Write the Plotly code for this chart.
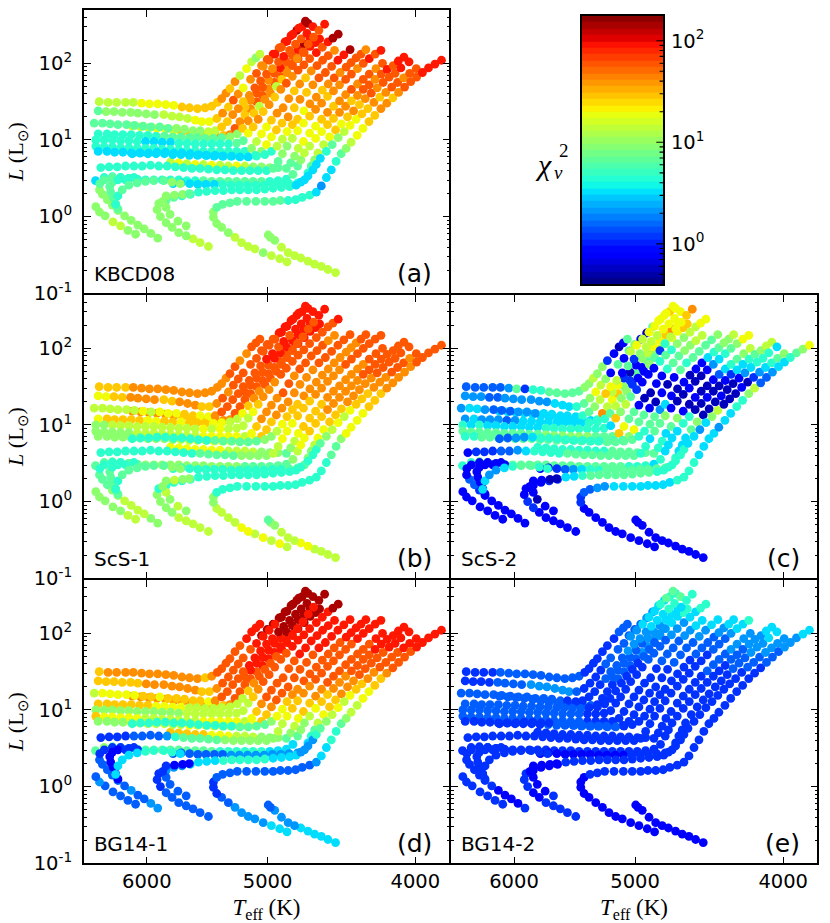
import math
import numpy as np
import plotly.graph_objects as go

# evolutionary tracks: Teff in K, log10 L in Lsun
teff_1 = [6448,6362,6280,6196,6124,6048,5976,5902,5830,5761,5690,5625,5558,5495,5440,5394,5359,5324,5292,5252,5213,5161,5122,5089,5058]
logl_1 = [1.50,1.49,1.49,1.49,1.49,1.48,1.47,1.47,1.46,1.45,1.43,1.42,1.41,1.42,1.44,1.49,1.54,1.61,1.67,1.76,1.84,1.93,2.02,2.07,2.12]
teff_2 = [6458,6381,6305,6227,6149,6082,6006,5931,5848,5776,5710,5642,5577,5522,5460,5399,5351,5305,5265,5226,5187,5130,5084,5033,4988,4944,4896,4855,4812,4770,4722]
logl_2 = [1.38,1.37,1.37,1.36,1.36,1.35,1.34,1.33,1.33,1.31,1.30,1.28,1.26,1.24,1.24,1.28,1.35,1.43,1.52,1.60,1.68,1.79,1.87,1.96,2.04,2.12,2.21,2.29,2.38,2.46,2.55]
teff_3 = [6497,6416,6342,6268,6187,6112,6033,5961,5884,5810,5737,5668,5596,5536,5467,5412,5359,5313,5270,5226,5187,5140,5097,5053,5008,4963,4918,4879,4836,4793,4752,4711,4669]
logl_3 = [1.22,1.22,1.21,1.20,1.20,1.19,1.18,1.17,1.17,1.15,1.15,1.14,1.12,1.12,1.11,1.12,1.17,1.24,1.33,1.41,1.50,1.58,1.68,1.77,1.86,1.93,2.02,2.09,2.17,2.25,2.32,2.39,2.48]
teff_4 = [6133,6057,5982,5908,5834,5761,5690,5619,5550,5481,5412,5345,5292,5252,5213,5174,5130,5084,5038,4993,4948,4904,4860,4816,4775,4731,4689,4650,4622]
logl_4 = [1.18,1.17,1.16,1.15,1.14,1.12,1.10,1.09,1.08,1.07,1.07,1.06,1.07,1.15,1.24,1.33,1.41,1.50,1.58,1.67,1.75,1.83,1.91,1.99,2.06,2.14,2.22,2.27,2.32]
teff_5 = [6458,6372,6299,6221,6143,6066,5991,5917,5843,5770,5699,5627,5563,5495,5426,5359,5292,5234,5192,5148,5104,5063,5021,4978,4934,4894,4855,4816,4780,4740,4702,4664,4627,4587]
logl_5 = [1.08,1.08,1.07,1.07,1.07,1.06,1.06,1.05,1.05,1.04,1.04,1.03,1.03,1.02,1.02,1.03,1.04,1.08,1.15,1.25,1.35,1.44,1.53,1.61,1.70,1.79,1.88,1.97,2.06,2.15,2.25,2.34,2.43,2.51]
teff_6 = [6481,6400,6321,6243,6165,6088,6012,5937,5863,5790,5718,5648,5577,5508,5440,5372,5305,5239,5187,5148,5110,5071,5033,4988,4946,4901,4860,4816,4775,4733,4692,4645,4603,4564,4530,4494]
logl_6 = [1.00,1.00,1.00,0.99,0.99,0.98,0.98,0.98,0.97,0.97,0.96,0.96,0.95,0.95,0.95,0.95,0.95,0.96,0.99,1.09,1.17,1.27,1.37,1.46,1.56,1.66,1.74,1.83,1.91,1.98,2.06,2.14,2.21,2.28,2.33,2.38]
teff_7 = [6481,6400,6321,6243,6165,6088,6012,5937,5863,5790,5718,5648,5577,5508,5440,5372,5305,5239,5174,5122,5084,5046,5008,4971,4929,4884,4842,4802,4763,4721,4681,4640,4601,4562,4519]
logl_7 = [0.92,0.91,0.91,0.90,0.90,0.89,0.89,0.89,0.88,0.88,0.87,0.86,0.86,0.85,0.85,0.85,0.85,0.85,0.85,0.89,0.98,1.08,1.17,1.26,1.35,1.42,1.54,1.64,1.73,1.81,1.90,1.97,2.04,2.10,2.17]
teff_8 = [6458,6372,6299,6221,6143,6066,5991,5917,5843,5770,5699,5627,5558,5489,5421,5353,5287,5221,5156,5092,5046,5008,4971,4934,4892,4847,4802,4761,4714,4669,4627,4582,4539,4496,4456,4414]
logl_8 = [0.85,0.85,0.84,0.84,0.83,0.83,0.82,0.82,0.82,0.81,0.81,0.80,0.80,0.80,0.79,0.79,0.79,0.79,0.79,0.80,0.85,0.94,1.04,1.13,1.22,1.30,1.42,1.53,1.62,1.72,1.81,1.88,1.96,2.04,2.11,2.18]
teff_9 = [6133,6057,5982,5908,5834,5761,5690,5619,5550,5481,5412,5345,5278,5213,5148,5084,5021,4971,4929,4889,4855,4816,4778,4733,4690,4645,4603,4562,4521,4481,4440,4407,4374,4342,4310]
logl_9 = [0.82,0.83,0.83,0.84,0.84,0.83,0.83,0.82,0.81,0.80,0.80,0.79,0.79,0.78,0.78,0.79,0.81,0.85,0.92,1.01,1.11,1.20,1.27,1.38,1.47,1.56,1.65,1.73,1.81,1.88,1.95,2.01,2.07,2.12,2.18]
teff_10 = [6432,6352,6274,6196,6118,6042,5967,5893,5819,5747,5676,5605,5536,5467,5399,5332,5265,5200,5135,5071,5008,4958,4921,4889,4855,4816,4778,4736,4692,4650,4608,4567,4526,4485,4444,4405,4365,4327,4288,4250,4213]
logl_10 = [0.64,0.65,0.65,0.66,0.66,0.66,0.67,0.66,0.66,0.65,0.64,0.63,0.63,0.62,0.61,0.61,0.60,0.60,0.60,0.60,0.60,0.63,0.72,0.82,0.92,1.02,1.12,1.22,1.31,1.40,1.48,1.57,1.64,1.72,1.79,1.86,1.93,2.00,2.06,2.12,2.17]
teff_11 = [5790,5718,5648,5577,5508,5440,5372,5305,5239,5174,5110,5046,4983,4921,4860,4828,4800,4773,4736,4692,4650,4608,4567,4526,4485,4444,4405,4365,4327,4288,4245,4203]
logl_11 = [0.71,0.70,0.69,0.68,0.68,0.67,0.67,0.66,0.66,0.66,0.65,0.65,0.64,0.64,0.63,0.70,0.79,0.89,0.98,1.09,1.18,1.27,1.36,1.44,1.51,1.59,1.66,1.73,1.79,1.86,1.93,2.00]
teff_12 = [6484,6400,6321,6243,6165,6088,6012,5937,5863,5790,5718,5648,5577,5508,5440,5372,5305,5239,5174,5110,5046,4983,4921,4860,4812,4778,4755,4729,4692,4650,4608,4567,4526,4485,4444,4405,4365,4327,4288,4250,4211,4174,4136,4104,4069]
logl_12 = [0.47,0.51,0.52,0.51,0.50,0.49,0.48,0.48,0.48,0.48,0.48,0.47,0.47,0.47,0.46,0.46,0.46,0.46,0.46,0.46,0.46,0.46,0.47,0.49,0.55,0.66,0.74,0.83,0.92,1.02,1.11,1.20,1.28,1.36,1.44,1.51,1.58,1.66,1.72,1.79,1.86,1.92,1.97,2.03,2.08]
teff_13 = [5767,5697,5625,5555,5487,5418,5351,5283,5218,5153,5089,5026,4963,4901,4840,4778,4729,4704,4681,4657,4634,4594,4553,4512,4472,4431,4391,4352,4314,4275,4237,4199,4161,4124,4088,4038]
logl_13 = [0.43,0.44,0.43,0.42,0.42,0.42,0.42,0.41,0.41,0.41,0.41,0.41,0.42,0.42,0.43,0.44,0.48,0.57,0.66,0.74,0.83,0.94,1.04,1.13,1.21,1.30,1.38,1.46,1.54,1.61,1.68,1.75,1.82,1.87,1.94,2.02]
teff_14 = [5467,5536,5596,5654,5718,5776,5828,5878,5908,5893,5828,5761,5690,5619,5550,5481,5412,5345,5278,5213,5148,5084,5021,4958,4896,4836,4789,4755,4704,4669,4645,4617,4575,4535,4494,4453,4414,4374,4336,4297,4258,4220,4182,4145,4108,4071,4034,3994]
logl_14 = [-0.39,-0.34,-0.29,-0.25,-0.21,-0.14,-0.08,0.00,0.09,0.17,0.21,0.25,0.27,0.29,0.32,0.33,0.34,0.34,0.35,0.35,0.35,0.35,0.36,0.37,0.38,0.39,0.41,0.45,0.53,0.61,0.68,0.76,0.85,0.94,1.03,1.11,1.19,1.27,1.34,1.41,1.49,1.56,1.62,1.69,1.75,1.81,1.87,1.93]
teff_15 = [4855,4909,4971,5033,5097,5148,5200,5252,5305,5359,5399,5426,5426,5399,5351,5292,5234,5161,5089,5021,4958,4904,4847,4793,4745,4692,4645,4610,4575,4541,4508,4474,4440,4407,4367,4329,4290,4252,4213,4176,4138,4102,4065,4028,3992,3957,3921,3883,3845]
logl_15 = [-0.59,-0.55,-0.51,-0.47,-0.42,-0.39,-0.34,-0.27,-0.21,-0.14,-0.09,-0.01,0.06,0.12,0.16,0.18,0.20,0.20,0.20,0.20,0.20,0.21,0.21,0.22,0.25,0.28,0.32,0.40,0.51,0.61,0.72,0.82,0.89,0.97,1.06,1.15,1.24,1.32,1.41,1.48,1.55,1.62,1.69,1.76,1.82,1.88,1.94,1.99,2.04]
teff_16 = [5654,5725,5793,5828,5857,5828,5755,5684,5627]
logl_16 = [-0.12,-0.06,0.03,0.12,0.20,0.27,0.28,0.29,0.30]
teff_17 = [5902,5964,6024,6082,6143,6205,6268,6321,6369,6416,6445,6442,6398,6321,6243,6165,6082]
logl_17 = [-0.28,-0.22,-0.16,-0.11,-0.05,0.01,0.08,0.15,0.22,0.29,0.35,0.43,0.48,0.51,0.51,0.50,0.48]
teff_18 = [6103,6174,6243,6315,6390,6445,6481]
logl_18 = [-0.23,-0.18,-0.12,-0.07,0.01,0.06,0.13]
teff_19 = [4512,4564,4610,4657,4704,4755,4800,4847,4896,4946,4978,4995]
logl_19 = [-0.73,-0.69,-0.65,-0.62,-0.58,-0.54,-0.51,-0.47,-0.40,-0.31,-0.27,-0.24]
teff_20 = [6268,6290,6312,6337,6346,6321,6268,6196,6118]
logl_20 = [0.10,0.17,0.25,0.32,0.39,0.45,0.48,0.48,0.51]
teff_21 = [6290,6268,6227,6165,6088,6012,5937,5848,5776,5705]
logl_21 = [0.16,0.27,0.35,0.41,0.44,0.46,0.47,0.47,0.45,0.43]
teff_22 = [5046,5003,4958,4914,4870,4826,4784,4745,4704]
logl_22 = [1.97,2.05,2.12,2.20,2.28,2.36,2.43,2.48,2.52]
teff_23 = [5174,5130,5084,5038,4993,4948,4904,4860,4816,4775,4731,4689]
logl_23 = [1.43,1.52,1.61,1.69,1.78,1.87,1.94,2.02,2.10,2.18,2.25,2.33]

teff_tracks = [teff_1,teff_2,teff_3,teff_4,teff_5,teff_6,teff_7,teff_8,teff_9,teff_10,teff_11,teff_12,teff_13,teff_14,teff_15,teff_16,teff_17,teff_18,teff_19,teff_20,teff_21,teff_22,teff_23]
logl_tracks = [logl_1,logl_2,logl_3,logl_4,logl_5,logl_6,logl_7,logl_8,logl_9,logl_10,logl_11,logl_12,logl_13,logl_14,logl_15,logl_16,logl_17,logl_18,logl_19,logl_20,logl_21,logl_22,logl_23]
# the hidden rows go first so the others lie on top of them
draw_order = [3, 10, 21, 22, 0, 1, 2, 4, 5, 6, 7, 8, 9, 11, 12, 13, 14, 15, 16, 17, 18, 19, 20]

# reduced chi2 classes, one hex digit per point of a track
chi_levels = [0.55,0.85,1.15,1.5,2.1,3.2,4.6,6.6,9.4,13.6,20,28,41,58,88,140]

chi_a = ["99999aaaaabbbbbbccbc9a989","788888889999aaabcbdcacdcdedeeef","7777777777888899bbccbcdddcdedddee","999aaabbbbcbcdcbcddcddcdedeee",
         "666666667777777788bcb9cc9bcdcdddde","6666665555666666677abcbcbcdcdddedeff","666666666666666666689aabcccbcbcdddc",
         "555555555555555566668aabbcbcbcdddeef","55555555555555566699abbaccbcdcddddc","66666666666666666666677889aabccbccddcdede",
         "9a9a9a99a988877789aaabcbccdcddcd","56666666666667777777766677899aabbccbcddcdedee","555555666666666656789" + "9ababcbcdcdddee",
         "999888888877666666666666665555556789aabbcbcddcdde"[:48],"9998999988888777777777666654556789aabbccbcdddeeee"[:49],
         "888888887","88888888888777666","8899888","999999999888","777777666","6677777788","cdedeefef","bcddcdeddefe"]
chi_b = ["bbbbccccccccccccccddccdd","aabbccccbbcccbbcdcddddddddeeeee","999999a9aaabbaacddddddddeededeeee","ccccccbbbbcccdddddddddddeeeee",
         "abbbbbaabbabbbaa99abccddddddddddee","8899999999999a9a9999abcccdddddddddde","8888899999999aaaaa9abccccddcdddddcc",
         "88888888889999aaaaaabbbcccccccdddddd","6666666666777777889abbbccccccccccdd","66666666666677777888899aaabbbcccccddddddd",
         "aaaaaaa9999888789abbbbcccccccddd","77777788888888888877777789aabbbccccccdddddddd","66666666666666777889aabbbcccccdddddd",
         "999998888666666666666666666666" + "6789a9abbbcccdddcd","9a9a9aa99998866666666666666" + "66778aaaabbbcccccddddd",
         "898988988","88999988777666677","9988888","9999aa999887","777776666","6677777788","dddeeeeee","dddddeeeeeee"]
chi_c = ["333334726677777" + "8898821017","444334444445556" + "78a981719a9aaaaa","455433344455555" + "6789ba91728999aaaa","555555555555" + "6c9ab82717899aabb",
         "454443455555555666" + "798821187269aabc","6565555555666666665" + "b89721116768899aa","7777777777888888777" + "ba77100116778899",
         "66777777777777777766" + "8a77101017677778","33445666666667777" + "667745101011567889","122233456666777777777" + "665778100100145678aa",
         "666666666777777" + "66578101001356789","66777777777777777777666" + "565555" + "6600100125567899","1123456677777777" + "66555" + "780001001456665",
         "1111112211" + "11225567777777766666" + "655458900010245678","1111111111122" + "33445555555566" + "665555455668933455678a",
         "110111100","11111112331111111","1111111","111111111111","101111111","5544567766","78107aaba","9a20189aabca"]
chi_d = ["bccccccccccccbc" + "ddddddeeee","bbbbbbcccccccbb" + "cddddddeeeefffff","9aaaaabbabbbbba" + "cdddddeeeeefffffff","ccccccccccbb" + "cdddddeeeeeefffff",
         "bbbbbbbaaaa9999999" + "9bcddddeeeeeeeff","8888888888899999999" + "9bcdddddeeeeeeeff","baaaaa9999999aaaaa9" + "abcddddddeeeeeee",
         "88889999999aaaaaaaaa" + "bbcdddddddeeeeee","66666666666667777" + "8aabccdddddddeeeee","222233334677777888888" + "899abbccdddddddeeeee",
         "bbbbbaaa9998887" + "89abbccddddddddee","78777777777777766666655" + "557889" + "abbcccddddeeeeee","3333333444444444" + "45679" + "abbcccdddddeeee",
         "3333333222" + "44455556666665555444" + "6789a9abbccddddeee","5554444433222" + "33333333333334" + "55667899aabbcddddeeeee",
         "333322111","44334333333222222","3333343","555555444433","111111122","5555566665","fffffffff","deeeeeefffff"]
chi_e = ["222233333333333" + "2222222333","222233334444443" + "2222333344555677","333333333333322" + "222233334444555667","333333333333" + "22223333444455566",
         "333333333333333222" + "2222223334455566","3333333333333332222" + "22222233334445566","3333333333333332222" + "2222222233334455",
         "22222222223333333322" + "2222222233334455","22222223333333322" + "222222222233334455","222222222222222222222" + "22222222222223334556",
         "222222222222222" + "22222222233334444","22222222222222222222222" + "222222" + "2222222233344455","1111111111122222" + "22222" + "222222233344455",
         "2222211222" + "11112222222222222222" + "222222222223334444","1111111111111" + "12222222222222" + "2222222222222233344455",
         "211111111","21111222222222222","2222222","111111111111","222222222","2222222222","333445566","333333444555"]

panel_chi = [chi_a, chi_b, chi_c, chi_d, chi_e]
panel_names = ["KBCD08", "ScS-1", "ScS-2", "BG14-1", "BG14-2"]
panel_tags = ["(a)", "(b)", "(c)", "(d)", "(e)"]

y_ticks = [0.1, 1, 10, 100]
y_tick_labels = ["10<sup>-1</sup>", "10<sup>0</sup>", "10<sup>1</sup>", "10<sup>2</sup>"]
x_ticks = [4000, 5000, 6000]
bar_ticks = [1, 10, 100]
bar_tick_labels = ["10<sup>0</sup>", "10<sup>1</sup>", "10<sup>2</sup>"]

CHI_MIN, CHI_MAX = 0.4, 176
W, H = 830, 923
LW = 1.5

# matplotlib jet
jet = [[0, "rgb(0,0,127)"], [.11, "rgb(0,0,255)"], [.125, "rgb(0,0,255)"], [.34, "rgb(0,219,255)"],
       [.35, "rgb(0,230,247)"], [.375, "rgb(21,255,226)"], [.64, "rgb(239,255,8)"], [.65, "rgb(247,246,0)"],
       [.66, "rgb(255,236,0)"], [.89, "rgb(255,19,0)"], [.91, "rgb(232,0,0)"], [1, "rgb(127,0,0)"]]

# panel boxes in pixels: left, right, top, bottom
boxes = [(83, 450, 9, 294), (83, 450, 294, 579), (450, 818, 294, 579), (83, 450, 579, 864), (450, 818, 579, 864)]
FONT = "DejaVu Sans"
SERIF = "Liberation Serif"


# axis lines sit outside the plot area, pull the area in so neighbours share one line
def dom_x(a, b):
    return [(a + LW / 2) / W, (b - LW / 2) / W]


def dom_y(top, bottom):
    return [1 - (bottom - LW / 2) / H, 1 - (top + LW / 2) / H]


def minor_vals(first, last):
    vals = []
    for p in range(-2, 4):
        for k in range(2, 10):
            v = k * 10.0 ** p
            if first < v < last:
                vals.append(v)
    return vals


fig = go.Figure()
layout = {}
annotations = []

for i, box in enumerate(boxes):
    n = i + 1
    left, right, top, bottom = box
    xs, ys, cs = [], [], []
    for k in draw_order:
        t, l, code = teff_tracks[k], logl_tracks[k], panel_chi[i][k]
        code = code.ljust(len(t), code[-1])
        for a, b, c in zip(t, l, code):
            xs.append(a)
            ys.append(10 ** b)
            cs.append(math.log10(chi_levels[int(c, 16)]))
    fig.add_trace(go.Scatter(
        x=xs, y=ys, mode="markers", xaxis=f"x{n}", yaxis=f"y{n}", showlegend=False,
        marker=dict(size=8.8, color=cs, colorscale=jet, cmin=math.log10(CHI_MIN), cmax=math.log10(CHI_MAX),
                    line=dict(width=0))
    ))
    show_x = i >= 3
    show_y = left == 83
    layout[f"xaxis{n}"] = dict(
        type="log", domain=dom_x(left, right), range=[math.log10(6600), math.log10(3800)], anchor=f"y{n}",
        automargin=False,
        tickmode="array", tickvals=x_ticks, ticktext=[str(v) for v in x_ticks], showticklabels=show_x,
        ticks="inside", ticklen=7, tickwidth=1, tickcolor="black", showgrid=False, zeroline=False,
        showline=True, linecolor="black", linewidth=LW, mirror="ticks",
        tickfont=dict(family=FONT, size=19.5, color="black"), ticklabelstandoff=0,
        title=dict(text="<i>T</i><sub>eff</sub> (K)" if show_x else "", font=dict(family=SERIF, size=23, color="black"), standoff=13),
    )
    layout[f"yaxis{n}"] = dict(
        type="log", domain=dom_y(top, bottom), range=[-1, math.log10(500)], anchor=f"x{n}",
        automargin=False,
        tickmode="array", tickvals=y_ticks, ticktext=y_tick_labels, showticklabels=show_y,
        ticks="inside", ticklen=7, tickwidth=1, tickcolor="black", showgrid=False, zeroline=False,
        minor=dict(tickmode="array", tickvals=minor_vals(0.1, 500), ticks="inside", ticklen=3, tickwidth=1,
                   tickcolor="black", showgrid=False),
        showline=True, linecolor="black", linewidth=LW, mirror="ticks",
        tickfont=dict(family=FONT, size=19.5, color="black"), ticklabelstandoff=6,
        title=dict(text="<i>L</i> (L<sub>⊙</sub>)" if show_y else "", font=dict(family=SERIF, size=22, color="black"), standoff=4),
    )
    annotations.append(dict(text=panel_names[i], xref="paper", yref="paper", x=(left + 9) / W, y=1 - (bottom - 20) / H,
                            xanchor="left", yanchor="middle", showarrow=False,
                            font=dict(family=FONT, size=20, color="black")))
    annotations.append(dict(text=panel_tags[i], xref="paper", yref="paper", x=(right - 16) / W, y=1 - (bottom - 21) / H,
                            xanchor="right", yanchor="middle", showarrow=False,
                            font=dict(family=FONT, size=25, color="black")))

# colour bar drawn as its own small axes, so the log ticks can be long and short
BANDS = 42
edges = np.logspace(math.log10(CHI_MIN), math.log10(CHI_MAX), BANDS + 1)
centres = np.log10(np.sqrt(edges[:-1] * edges[1:]))
fig.add_trace(go.Heatmap(
    x=[0, 1], y=edges.tolist(), z=[[v] for v in centres.tolist()], xaxis="x6", yaxis="y6",
    colorscale=jet, zmin=math.log10(CHI_MIN), zmax=math.log10(CHI_MAX), showscale=False, hoverinfo="skip"
))
# axis ticks stay hidden behind the heatmap image here, so the bar's ticks are a line trace on top
tick_x, tick_y = [], []
for v in bar_ticks:
    tick_x += [0.915, 1, None]
    tick_y += [v, v, None]
for v in minor_vals(CHI_MIN, CHI_MAX):
    tick_x += [0.955, 1, None]
    tick_y += [v, v, None]
fig.add_trace(go.Scatter(x=tick_x, y=tick_y, mode="lines", xaxis="x6", yaxis="y6", showlegend=False,
                         line=dict(color="black", width=1.1), hoverinfo="skip"))
layout["xaxis6"] = dict(domain=dom_x(581, 664), range=[0, 1], anchor="y6", showticklabels=False, ticks="", automargin=False,
                        showgrid=False, zeroline=False, showline=True, linecolor="black", linewidth=LW, mirror=True)
layout["yaxis6"] = dict(
    type="log", domain=dom_y(15, 285), range=[math.log10(CHI_MIN), math.log10(CHI_MAX)], anchor="x6", side="right",
    automargin=False,
    tickmode="array", tickvals=bar_ticks, ticktext=bar_tick_labels, ticks="",
    showgrid=False, zeroline=False,
    showline=True, linecolor="black", linewidth=LW, mirror=True,
    tickfont=dict(family=FONT, size=19.5, color="black"), ticklabelstandoff=2,
)

# chi^2_nu label, the indices stack so they are placed one by one
annotations.append(dict(text="<i>χ</i>", xref="paper", yref="paper", x=533 / W, y=1 - 165 / H, xanchor="left", yanchor="middle",
                        showarrow=False, font=dict(family=SERIF, size=30, color="black")))
annotations.append(dict(text="<i>ν</i>", xref="paper", yref="paper", x=552 / W, y=1 - 172 / H, xanchor="left", yanchor="middle",
                        showarrow=False, font=dict(family=SERIF, size=19, color="black")))
annotations.append(dict(text="2", xref="paper", yref="paper", x=557 / W, y=1 - 151 / H, xanchor="left", yanchor="middle",
                        showarrow=False, font=dict(family=SERIF, size=19, color="black")))

fig.update_layout(width=W, height=H, margin=dict(l=0, r=0, t=0, b=0, autoexpand=False), paper_bgcolor="white", plot_bgcolor="white",
                  showlegend=False, annotations=annotations, **layout)

fig.write_html("out.html", config={"displayModeBar": False}, post_script="document.body.style.margin='0';")
